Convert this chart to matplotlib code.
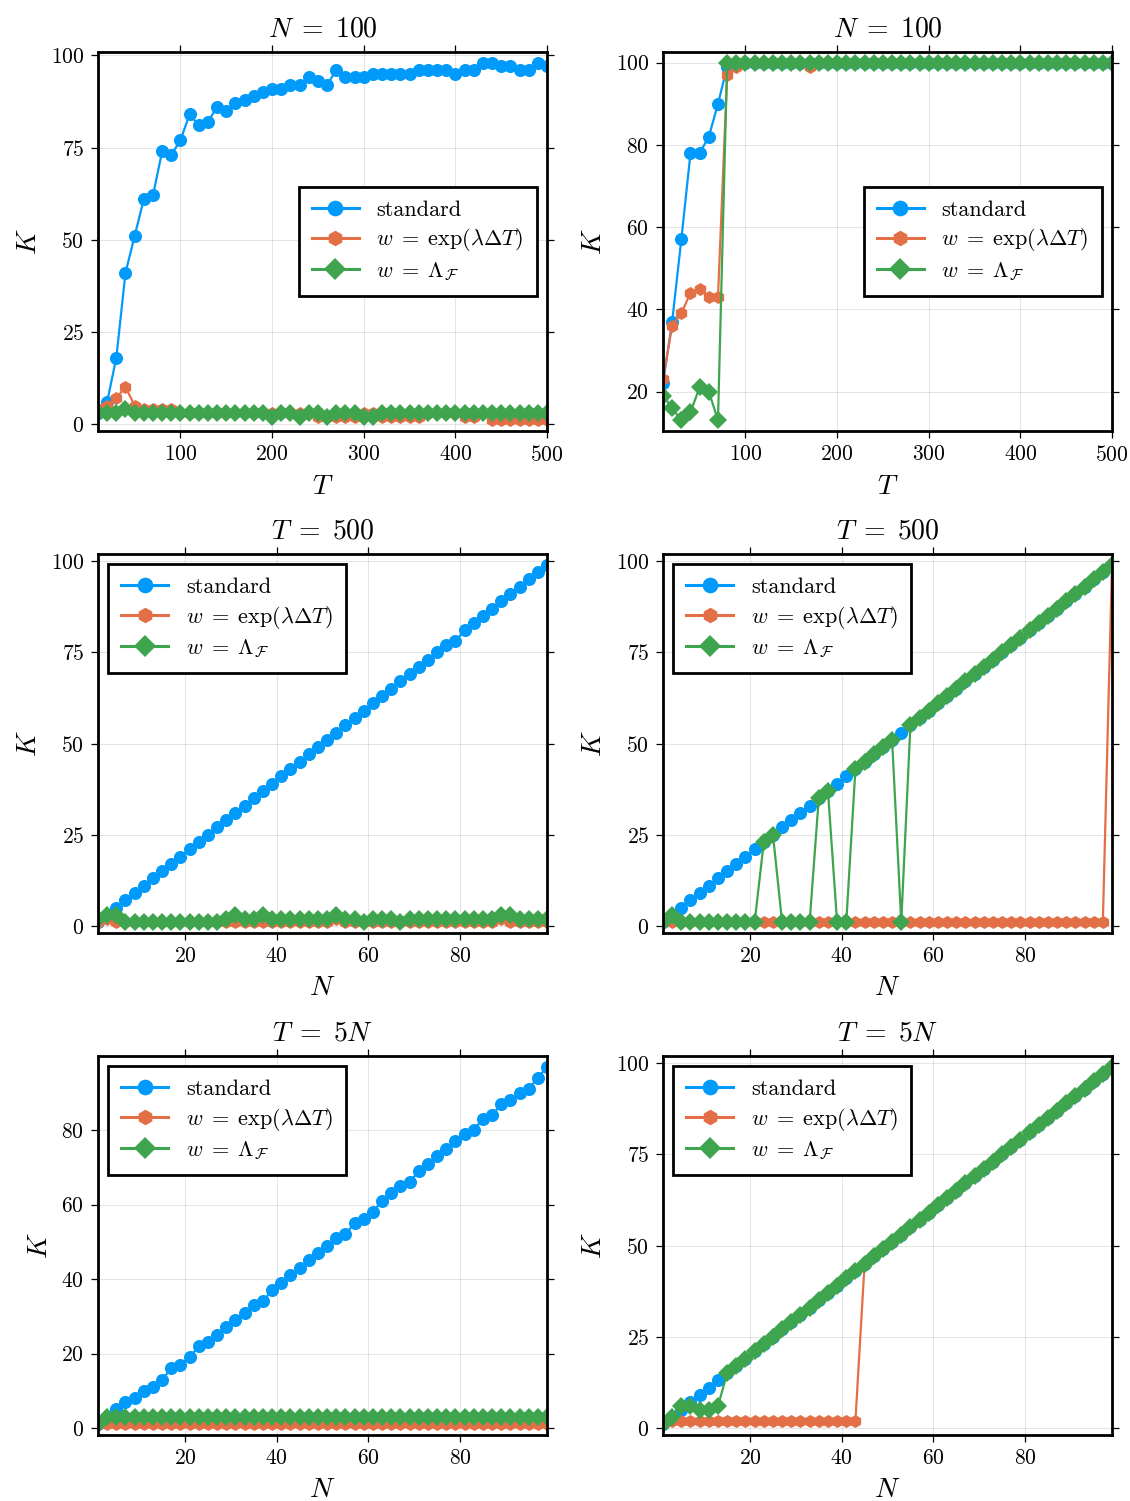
import numpy as np
import matplotlib
matplotlib.use("Agg")
import matplotlib.pyplot as plt

plt.rcParams['font.family'] = 'serif'
plt.rcParams['font.serif'] = ['cmr10']
plt.rcParams['mathtext.fontset'] = 'cm'
plt.rcParams['axes.formatter.use_mathtext'] = True

# x grids
T = np.arange(10, 501, 10)
N = np.arange(1, 100, 2)

# ---- N = 100, left
k_std_a = [3, 6, 18, 41, 51, 61, 62, 74, 73, 77,
           84, 81, 82, 86, 85, 87, 88, 89, 90, 91,
           91, 92, 92, 94, 93, 92, 96, 94, 94, 94,
           95, 95, 95, 95, 95, 96, 96, 96, 96, 95,
           96, 96, 98, 98, 97, 97, 96, 96, 98, 97]
k_exp_a = [4, 5, 7, 10, 5, 4, 4, 4, 4, 3,
           3, 3, 3, 3, 3, 3, 3, 3, 3, 3,
           3, 3, 3, 3, 2, 2, 2, 2, 2, 3,
           3, 2, 2, 2, 2, 2, 3, 3, 3, 3,
           2, 2, 3, 1, 1, 1, 1, 1, 1, 1]
k_lam_a = [3, 3, 3, 4, 3, 3, 3, 3, 3, 3,
           3, 3, 3, 3, 3, 3, 3, 3, 3, 2,
           3, 3, 2, 3, 3, 2, 3, 3, 3, 2,
           2, 3, 3, 3, 3, 3, 3, 3, 3, 3,
           3, 3, 3, 3, 3, 3, 3, 3, 3, 3]

# ---- N = 100, right
k_std_b = [22, 37, 57, 78, 78, 82, 90, 99, 100, 100,
           100, 100, 100, 100, 100, 100, 100, 100, 100, 100,
           100, 100, 100, 100, 100, 100, 100, 100, 100, 100,
           100, 100, 100, 100, 100, 100, 100, 100, 100, 100,
           100, 100, 100, 100, 100, 100, 100, 100, 100, 100]
k_exp_b = [23, 36, 39, 44, 45, 43, 43, 97, 99, 100,
           100, 100, 100, 100, 100, 100, 99, 100, 100, 100,
           100, 100, 100, 100, 100, 100, 100, 100, 100, 100,
           100, 100, 100, 100, 100, 100, 100, 100, 100, 100,
           100, 100, 100, 100, 100, 100, 100, 100, 100, 100]
k_lam_b = [19, 16, 13, 15, 21, 20, 13, 100, 100, 100,
           100, 100, 100, 100, 100, 100, 100, 100, 100, 100,
           100, 100, 100, 100, 100, 100, 100, 100, 100, 100,
           100, 100, 100, 100, 100, 100, 100, 100, 100, 100,
           100, 100, 100, 100, 100, 100, 100, 100, 100, 100]

# ---- T = 500, left
k_std_c = [1, 3, 5, 7, 9, 11, 13, 15, 17, 19,
           21, 23, 25, 27, 29, 31, 33, 35, 37, 39,
           41, 43, 45, 47, 49, 51, 53, 55, 57, 59,
           61, 63, 65, 67, 69, 71, 73, 75, 77, 78,
           81, 83, 85, 87, 89, 91, 93, 95, 97, 99]
k_exp_c = [1, 2, 1, 1, 1, 1, 1, 1, 1, 1,
           1, 1, 1, 1, 1, 1, 1, 1, 1, 1,
           1, 1, 1, 1, 1, 1, 2, 1, 1, 1,
           1, 1, 1, 1, 1, 1, 1, 1, 1, 1,
           1, 1, 1, 1, 2, 1, 1, 1, 1, 1]
k_lam_c = [2, 3, 3, 1, 1, 1, 1, 1, 1, 1,
           1, 1, 1, 1, 2, 3, 2, 2, 3, 2,
           2, 2, 2, 2, 2, 2, 3, 2, 2, 1,
           2, 2, 2, 1, 2, 2, 2, 2, 2, 2,
           2, 2, 2, 2, 3, 3, 2, 2, 2, 2]

# ---- T = 500, right
k_std_d = [1, 3, 5, 7, 9, 11, 13, 15, 17, 19,
           21, 23, 25, 27, 29, 31, 33, 35, 37, 39,
           41, 43, 45, 47, 49, 51, 53, 55, 57, 59,
           61, 63, 65, 67, 69, 71, 73, 75, 77, 79,
           81, 83, 85, 87, 89, 91, 93, 95, 97, 99]
k_exp_d = [1, 1, 1, 1, 1, 1, 1, 1, 1, 1,
           1, 1, 1, 1, 1, 1, 1, 1, 1, 1,
           1, 1, 1, 1, 1, 1, 1, 1, 1, 1,
           1, 1, 1, 1, 1, 1, 1, 1, 1, 1,
           1, 1, 1, 1, 1, 1, 1, 1, 1, 99]
k_lam_d = [1, 3, 1, 1, 1, 1, 1, 1, 1, 1,
           1, 23, 25, 1, 1, 1, 1, 35, 37, 1,
           1, 43, 45, 47, 49, 51, 1, 55, 57, 59,
           61, 63, 65, 67, 69, 71, 73, 75, 77, 79,
           81, 83, 85, 87, 89, 91, 93, 95, 97, 99]

# ---- T = 5N, left
k_std_e = [1, 3, 5, 7, 8, 10, 11, 13, 16, 17,
           19, 22, 23, 25, 27, 29, 31, 33, 34, 37,
           39, 41, 43, 45, 47, 49, 51, 52, 55, 56,
           58, 61, 63, 65, 66, 69, 71, 73, 75, 77,
           79, 80, 83, 84, 87, 88, 90, 91, 94, 97]
k_exp_e = [1, 1, 1, 1, 1, 1, 1, 1, 1, 1,
           1, 1, 1, 1, 1, 1, 1, 1, 1, 1,
           1, 1, 1, 1, 1, 1, 1, 1, 1, 1,
           1, 1, 1, 1, 1, 1, 1, 1, 1, 1,
           1, 1, 1, 1, 1, 1, 1, 1, 1, 1]
k_lam_e = [1, 3, 3, 3, 3, 3, 3, 3, 3, 3,
           3, 3, 3, 3, 3, 3, 3, 3, 3, 3,
           3, 3, 3, 3, 3, 3, 3, 3, 3, 3,
           3, 3, 3, 3, 3, 3, 3, 3, 3, 3,
           3, 3, 3, 3, 3, 3, 3, 3, 3, 3]

# ---- T = 5N, right
k_std_f = [1, 3, 5, 7, 9, 11, 13, 15, 17, 19,
           21, 23, 25, 27, 29, 31, 33, 35, 37, 39,
           41, 43, 45, 47, 49, 51, 53, 55, 57, 59,
           61, 63, 65, 67, 69, 71, 73, 75, 77, 79,
           81, 83, 85, 87, 89, 91, 93, 95, 97, 99]
k_exp_f = [1, 2, 2, 2, 2, 2, 2, 2, 2, 2,
           2, 2, 2, 2, 2, 2, 2, 2, 2, 2,
           2, 2, 45, 47, 49, 51, 53, 55, 57, 59,
           61, 63, 65, 67, 69, 71, 73, 75, 77, 79,
           81, 83, 85, 87, 89, 91, 93, 95, 97, 99]
k_lam_f = [1, 3, 6, 6, 5, 5, 6, 15, 17, 19,
           21, 23, 25, 27, 29, 31, 33, 35, 37, 39,
           41, 43, 45, 47, 49, 51, 53, 55, 57, 59,
           61, 63, 65, 67, 69, 71, 73, 75, 77, 79,
           81, 83, 85, 87, 89, 91, 93, 95, 97, 99]

labels = ['standard', r'$w\;=\;\exp(\lambda\Delta T)$', r'$w\;=\;\Lambda_{\mathcal{F}}$']
colors = ['#009AFA', '#E36F47', '#3EA44E']
markers = ['o', 'h', 'D']

W, H = 1130, 1501
fig = plt.figure(figsize=(W / 100, H / 100), dpi=100)


def make_ax(left, top, w=449, h=379):
    return fig.add_axes([left / W, 1 - (top + h) / H, w / W, h / H])


def panel(ax, x, ks, title, xlab, xticks, yticks, xlim, loc):
    for k, c, m, lab in zip(ks, colors, markers, labels):
        ax.plot(x, k, color=c, marker=m, ms=9.4, mew=0, lw=1.6, label=lab)
    lo = min(min(k) for k in ks)
    hi = max(max(k) for k in ks)
    pad = 0.03 * (hi - lo)
    ax.set_ylim(lo - pad, hi + pad)
    ax.set_xlim(*xlim)
    ax.set_xticks(xticks)
    ax.set_yticks(yticks)
    ax.grid(True, color='black', alpha=0.1, lw=0.8)
    ax.set_axisbelow(True)
    ax.tick_params(direction='out', length=5, width=0.9, top=True, right=True,
                   labelsize=15.5, pad=5)
    for s in ax.spines.values():
        s.set_linewidth(2)
    ax.set_title(title, fontsize=20, pad=11)
    ax.set_xlabel(xlab, fontsize=20, labelpad=6)
    ax.set_ylabel(r'$K$', fontsize=20, labelpad=6)
    leg = ax.legend(loc=loc, fontsize=16, fancybox=False, edgecolor='black',
                    framealpha=1, borderaxespad=0.45, handlelength=2.1,
                    handletextpad=0.8, labelspacing=0.3, borderpad=0.6,
                    markerscale=1.2)
    leg.get_frame().set_linewidth(2)
    for h in leg.legend_handles:
        h.set_linewidth(2.2)


tt = [100, 200, 300, 400, 500]
nt = [20, 40, 60, 80]
y25 = [0, 25, 50, 75, 100]

ax1 = make_ax(98, 52)
panel(ax1, T, [k_std_a, k_exp_a, k_lam_a], r'$N\;=\;100$', r'$T$', tt, y25, (10, 500), 'center right')
ax2 = make_ax(663, 52)
panel(ax2, T, [k_std_b, k_exp_b, k_lam_b], r'$N\;=\;100$', r'$T$', tt, [20, 40, 60, 80, 100], (10, 500), 'center right')
ax3 = make_ax(98, 554)
panel(ax3, N, [k_std_c, k_exp_c, k_lam_c], r'$T\;=\;500$', r'$N$', nt, y25, (1, 99), 'upper left')
ax4 = make_ax(663, 554)
panel(ax4, N, [k_std_d, k_exp_d, k_lam_d], r'$T\;=\;500$', r'$N$', nt, y25, (1, 99), 'upper left')
ax5 = make_ax(98, 1056)
panel(ax5, N, [k_std_e, k_exp_e, k_lam_e], r'$T\;=\;5N$', r'$N$', nt, [0, 20, 40, 60, 80], (1, 99), 'upper left')
ax6 = make_ax(663, 1056)
panel(ax6, N, [k_std_f, k_exp_f, k_lam_f], r'$T\;=\;5N$', r'$N$', nt, y25, (1, 99), 'upper left')

fig.savefig('out.png', dpi=100, facecolor='white')
